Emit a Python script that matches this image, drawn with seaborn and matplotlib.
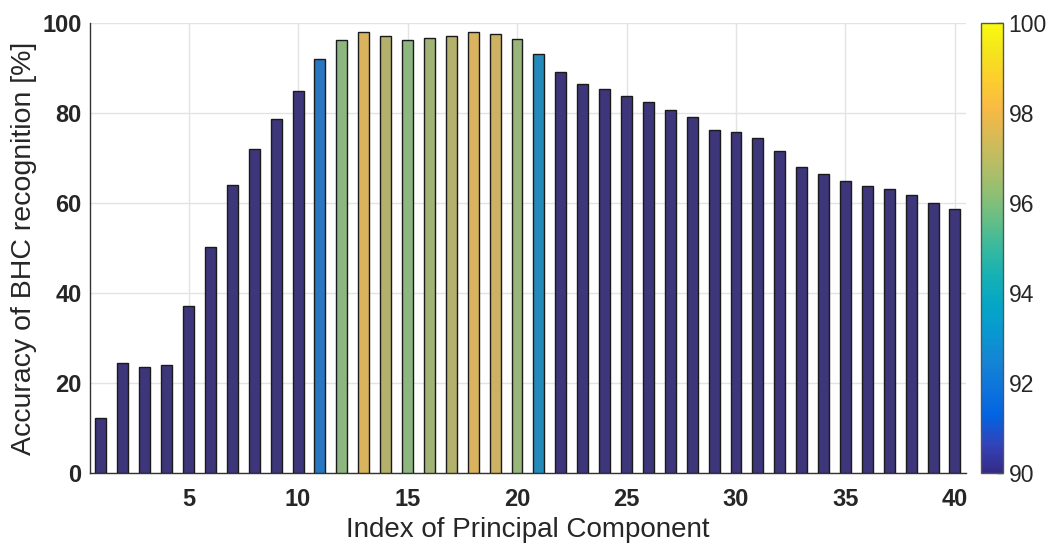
import numpy as np
import pandas as pd
import matplotlib
matplotlib.use("Agg")
import matplotlib.pyplot as plt
import seaborn as sns
from matplotlib.colors import LinearSegmentedColormap, Normalize
from matplotlib.cm import ScalarMappable

# Data
component_index = list(range(1, 41))
accuracy = [12.3, 24.5, 23.5, 24.1, 37.0, 50.2, 64.0, 72.0, 78.6, 84.8,
            92.0, 96.1, 97.9, 97.0, 96.1, 96.6, 97.0, 97.9, 97.6, 96.4,
            93.0, 89.0, 86.5, 85.4, 83.8, 82.5, 80.7, 79.0, 76.1, 75.7,
            74.4, 71.5, 67.9, 66.5, 64.8, 63.8, 63.2, 61.7, 60.1, 58.6]
x_ticks = [5, 10, 15, 20, 25, 30, 35, 40]
y_ticks = [0, 20, 40, 60, 80, 100]
cbar_ticks = [90, 92, 94, 96, 98, 100]
clim = (90, 100)

# parula-like colormap anchors
parula_anchors = [
    (0.2081, 0.1663, 0.5292), (0.1959, 0.2645, 0.7279), (0.0117, 0.3875, 0.8820),
    (0.0498, 0.4586, 0.8641), (0.0793, 0.5200, 0.8312), (0.0343, 0.5966, 0.8199),
    (0.0228, 0.6535, 0.7768), (0.0843, 0.6928, 0.7062), (0.2178, 0.7250, 0.6193),
    (0.3953, 0.7459, 0.5244), (0.5709, 0.7485, 0.4494), (0.7184, 0.7411, 0.3905),
    (0.8507, 0.7299, 0.3360), (0.9738, 0.7314, 0.2666), (0.9880, 0.8066, 0.1794),
    (0.9589, 0.8949, 0.1132), (0.9763, 0.9831, 0.0538),
]
parula = LinearSegmentedColormap.from_list("parula", parula_anchors)
norm = Normalize(vmin=clim[0], vmax=clim[1], clip=True)
colors = {i: parula(norm(a)) for i, a in zip(component_index, accuracy)}

df = pd.DataFrame({"idx": component_index, "acc": accuracy})

sns.set_style("white")
plt.rcParams['font.family'] = ['Liberation Sans', 'DejaVu Sans']

fig = plt.figure(figsize=(10.49, 5.46), dpi=100)
ax = fig.add_axes([0.0858, 0.1337, 0.835, 0.8243])

sns.barplot(data=df, x="idx", y="acc", hue="idx", palette=colors,
            native_scale=True, dodge=False, legend=False, width=0.5,
            edgecolor="#1a1a1a", linewidth=1.0, ax=ax, zorder=3)

ax.set_xlim(0.5, 40.5)
ax.set_ylim(0, 100)
ax.set_xticks(x_ticks)
ax.set_yticks(y_ticks)
ax.set_xticklabels([str(t) for t in x_ticks], fontsize=17, fontweight="bold", color="#262626")
ax.set_yticklabels([str(t) for t in y_ticks], fontsize=17, fontweight="bold", color="#262626")
ax.grid(True, color="#e3e3e3", linewidth=1.0, zorder=0)
ax.set_axisbelow(True)
for s in ["top", "right"]:
    ax.spines[s].set_visible(False)
for s in ["left", "bottom"]:
    ax.spines[s].set_color("#333333")
    ax.spines[s].set_linewidth(1.0)
ax.tick_params(direction="in", length=5, width=1, colors="#333333", labelcolor="#262626")
ax.tick_params(axis="x", pad=11)
ax.tick_params(axis="y", pad=6)
ax.set_xlabel("Index of Principal Component", fontsize=20, color="#262626", labelpad=4)
ax.set_ylabel("Accuracy of BHC recognition [%]", fontsize=20.5, color="#262626", labelpad=4)

cax = fig.add_axes([0.9352, 0.1337, 0.021, 0.8243])
sm = ScalarMappable(norm=Normalize(vmin=clim[0], vmax=clim[1]), cmap=parula)
cb = fig.colorbar(sm, cax=cax, ticks=cbar_ticks)
cb.ax.set_yticklabels([str(t) for t in cbar_ticks], fontsize=16.5, color="#262626")
cb.ax.tick_params(direction="in", length=4, width=1, colors="#333333", labelcolor="#262626", pad=4)
cb.outline.set_edgecolor("#555555")
cb.outline.set_linewidth(1.0)

fig.savefig("out.png", dpi=100)
